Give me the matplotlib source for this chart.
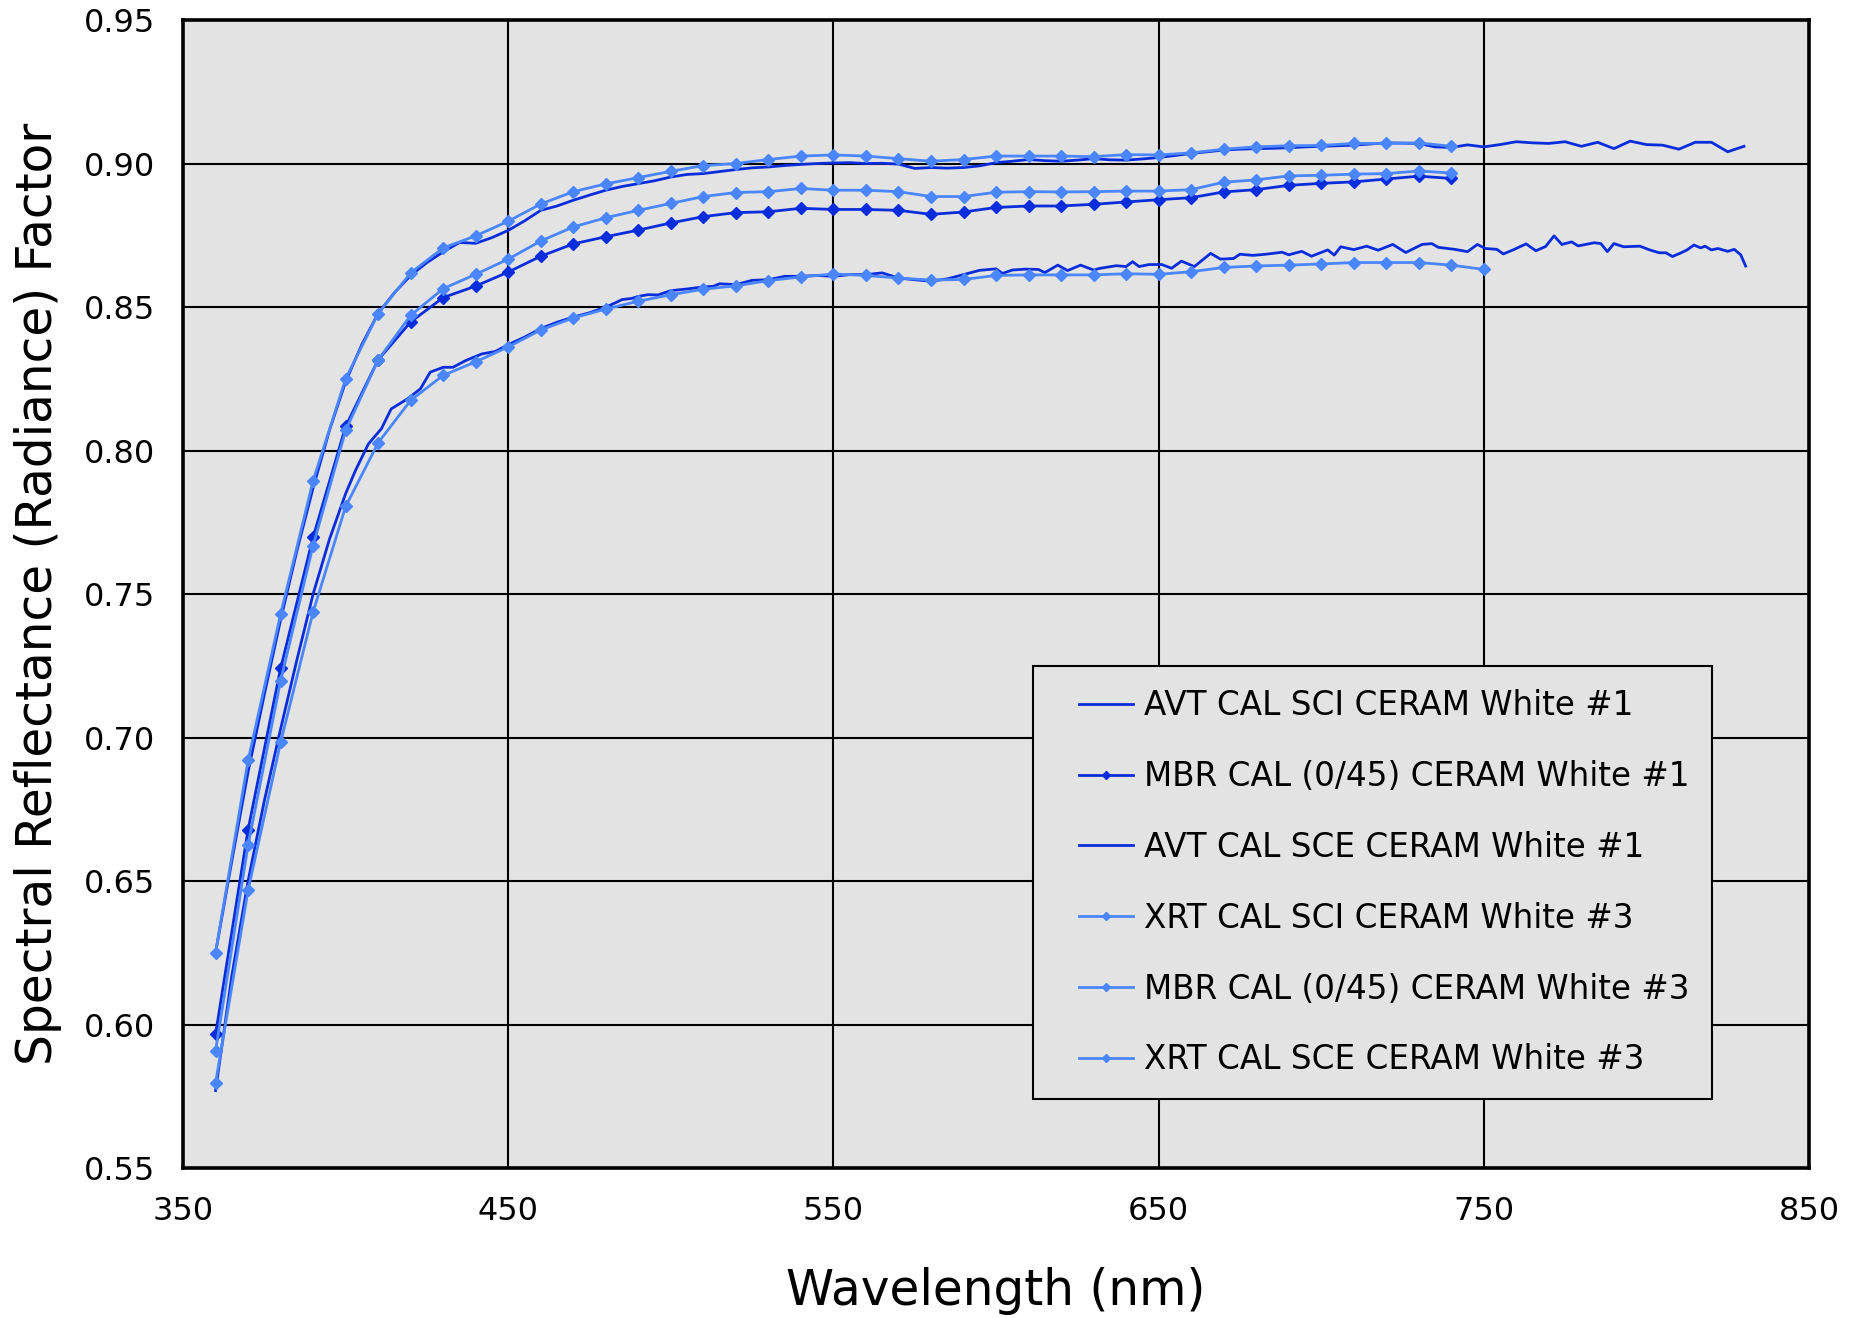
import matplotlib
matplotlib.use("Agg")
import matplotlib.pyplot as plt
from matplotlib.lines import Line2D
from matplotlib.legend_handler import HandlerLine2D

# ---------------- data ----------------
x_mark = [360, 370, 380, 390, 400, 410, 420, 430, 440, 450, 460, 470, 480, 490, 500,
          510, 520, 530, 540, 550, 560, 570, 580, 590, 600, 610, 620, 630, 640, 650,
          660, 670, 680, 690, 700, 710, 720, 730, 740]
x_mark_750 = x_mark + [750]

mbr_cal_1 = [0.5966, 0.6679, 0.7241, 0.7698, 0.8084, 0.8316, 0.8448, 0.8533, 0.8573, 0.8622,
             0.8677, 0.8720, 0.8745, 0.8768, 0.8793, 0.8815, 0.8829, 0.8832, 0.8844, 0.8840,
             0.8840, 0.8837, 0.8823, 0.8831, 0.8847, 0.8852, 0.8852, 0.8858, 0.8866, 0.8874,
             0.8881, 0.8901, 0.8909, 0.8924, 0.8931, 0.8936, 0.8946, 0.8956, 0.8948]

xrt_sci_3 = [0.6250, 0.6920, 0.7430, 0.7895, 0.8250, 0.8477, 0.8619, 0.8706, 0.8748, 0.8799,
             0.8859, 0.8902, 0.8929, 0.8951, 0.8973, 0.8993, 0.9000, 0.9014, 0.9026, 0.9030,
             0.9026, 0.9017, 0.9008, 0.9014, 0.9026, 0.9026, 0.9026, 0.9024, 0.9031, 0.9030,
             0.9037, 0.9050, 0.9058, 0.9062, 0.9063, 0.9070, 0.9070, 0.9072, 0.9060]

mbr_cal_3 = [0.5908, 0.6626, 0.7198, 0.7669, 0.8070, 0.8316, 0.8471, 0.8564, 0.8614, 0.8667,
             0.8730, 0.8779, 0.8811, 0.8837, 0.8861, 0.8885, 0.8899, 0.8902, 0.8913, 0.8907,
             0.8907, 0.8902, 0.8885, 0.8885, 0.8900, 0.8902, 0.8901, 0.8902, 0.8904, 0.8904,
             0.8909, 0.8935, 0.8943, 0.8957, 0.8959, 0.8963, 0.8965, 0.8974, 0.8967]

xrt_sce_3 = [0.5796, 0.6468, 0.6983, 0.7438, 0.7805, 0.8027, 0.8175, 0.8262, 0.8309, 0.8361,
             0.8420, 0.8462, 0.8493, 0.8520, 0.8543, 0.8562, 0.8574, 0.8592, 0.8605, 0.8615,
             0.8610, 0.8601, 0.8594, 0.8596, 0.8610, 0.8612, 0.8612, 0.8612, 0.8616, 0.8614,
             0.8623, 0.8638, 0.8643, 0.8646, 0.8650, 0.8655, 0.8655, 0.8655, 0.8646, 0.8631]

avt_sci_x = [360, 365, 370, 375, 380, 385, 390, 395, 400, 405, 410, 415, 420, 425, 430,
             435, 440, 445, 450, 455, 460, 465, 470, 475, 480, 485, 490, 495, 500, 505,
             510, 515, 520, 525, 530, 535, 540, 545, 550, 555, 560, 565, 570, 575, 580,
             585, 590, 595, 600, 605, 610, 615, 620, 625, 630, 635, 640, 645, 650, 655,
             660, 665, 670, 675, 680, 685, 690, 695, 700, 705, 710, 715, 720, 725, 730,
             735, 740, 745, 750, 755, 760, 765, 770, 775, 780, 785, 790, 795, 800, 805,
             810, 815, 820, 825, 830]
avt_sci_1 = [0.625, 0.657, 0.688, 0.715, 0.741, 0.765, 0.787, 0.807, 0.824, 0.837,
             0.8478, 0.855, 0.861, 0.8655, 0.8692, 0.8725, 0.8722, 0.8742, 0.8767, 0.8800,
             0.8837, 0.8852, 0.8872, 0.8890, 0.8907, 0.8920, 0.8930, 0.8940, 0.8953, 0.8962,
             0.8965, 0.8972, 0.8979, 0.8985, 0.8988, 0.8993, 0.8997, 0.9000, 0.9002, 0.9003,
             0.9000, 0.9001, 0.8998, 0.8983, 0.8986, 0.8984, 0.8986, 0.8992, 0.9003, 0.9008,
             0.9014, 0.9010, 0.9008, 0.9012, 0.9017, 0.9013, 0.9012, 0.9016, 0.9021, 0.9028,
             0.9035, 0.9041, 0.9047, 0.9050, 0.9052, 0.9053, 0.9055, 0.9058, 0.9060, 0.9062,
             0.9064, 0.9068, 0.9072, 0.9071, 0.9070, 0.9058, 0.9056, 0.9065, 0.9058, 0.9066,
             0.9076, 0.9072, 0.9070, 0.9076, 0.9060, 0.9074, 0.9052, 0.9078, 0.9066, 0.9064,
             0.9050, 0.9074, 0.9074, 0.9041, 0.9060]

avt_sce_x = [360, 365, 370, 375, 380, 385, 390, 395, 400, 403, 407, 411, 414, 419, 423,
             426, 430, 433, 437, 442, 446, 450, 455, 460, 465, 470, 475, 480, 483, 485,
             488, 490, 493, 496, 500, 505, 510, 513, 515, 520, 525, 530, 535, 540, 545,
             550, 555, 560, 565, 570, 575, 580, 585, 590, 595, 600, 602, 605, 609, 613,
             615, 619, 622, 626, 630, 632, 637, 640, 642, 644, 647, 651, 654, 657, 661,
             666, 669, 673, 675, 679, 683, 688, 690, 694, 697, 702, 704, 706, 710, 714,
             717.5, 722, 726, 731, 734, 736, 741, 745, 748, 750.5, 754, 756, 759, 763, 766,
             769, 771.6, 774, 777, 779, 784, 786, 788, 790, 793, 798, 801, 804, 806, 808,
             810.5, 812.5, 814.6, 816.7, 818, 820, 822, 825, 827, 829, 830.5]
avt_sce_1 = [0.577, 0.617, 0.650, 0.678, 0.703, 0.727, 0.750, 0.769, 0.785, 0.793,
             0.8023, 0.8076, 0.8145, 0.818, 0.8215, 0.8273, 0.829, 0.829, 0.8314, 0.8337,
             0.8345, 0.8369, 0.8395, 0.8425, 0.8447, 0.8465, 0.848, 0.850, 0.8515, 0.8526,
             0.853, 0.8537, 0.8543, 0.8542, 0.8557, 0.8563, 0.857, 0.8572, 0.8581, 0.8578,
             0.8593, 0.8595, 0.8607, 0.8607, 0.8610, 0.8607, 0.8613, 0.8613, 0.8619, 0.8601,
             0.8595, 0.859, 0.8598, 0.8613, 0.8628, 0.8633, 0.8617, 0.8629, 0.8632, 0.8631,
             0.8620, 0.8646, 0.8627, 0.8646, 0.8629, 0.8635, 0.8644, 0.8641, 0.8658, 0.8641,
             0.8648, 0.8648, 0.8635, 0.866, 0.8641, 0.8687, 0.8667, 0.8669, 0.8684, 0.868,
             0.8684, 0.8691, 0.8682, 0.8694, 0.8677, 0.8699, 0.8681, 0.871, 0.870, 0.8712,
             0.8698, 0.8718, 0.869, 0.8718, 0.8721, 0.8708, 0.8701, 0.8693, 0.8718, 0.8704,
             0.8701, 0.8685, 0.8699, 0.872, 0.8696, 0.8711, 0.8748, 0.8718, 0.8727, 0.8713,
             0.8724, 0.8721, 0.8693, 0.8721, 0.8710, 0.8712, 0.8699, 0.8689, 0.8689, 0.8676,
             0.8688, 0.8699, 0.8716, 0.8706, 0.8712, 0.8699, 0.8704, 0.8694, 0.8701, 0.8682,
             0.8643]

labels = ["AVT CAL SCI CERAM White #1",
          "MBR CAL (0/45) CERAM White #1",
          "AVT CAL SCE CERAM White #1",
          "XRT CAL SCI CERAM White #3",
          "MBR CAL (0/45) CERAM White #3",
          "XRT CAL SCE CERAM White #3"]

x_ticks = [350, 450, 550, 650, 750, 850]
y_ticks = [0.55, 0.60, 0.65, 0.70, 0.75, 0.80, 0.85, 0.90, 0.95]

# ---------------- style ----------------
DARK = "#0A2DDC"
LIGHT = "#4A86FF"
BG = "#E3E3E3"

plt.rcParams['font.family'] = ['DejaVu Sans']

fig = plt.figure(figsize=(18.64, 13.18), dpi=100)
ax = fig.add_axes([0.0982, 0.1138, 0.8723, 0.8710])
ax.set_facecolor(BG)

lw = 2.0
ms = 6.3
ax.plot(avt_sci_x, avt_sci_1, color=DARK, lw=lw, label=labels[0], zorder=3)
ax.plot(x_mark, mbr_cal_1, color=DARK, lw=lw, marker='D', ms=ms, label=labels[1], zorder=3)
ax.plot(avt_sce_x, avt_sce_1, color=DARK, lw=lw, label=labels[2], zorder=3)
ax.plot(x_mark, xrt_sci_3, color=LIGHT, lw=lw, marker='D', ms=ms, label=labels[3], zorder=4)
ax.plot(x_mark, mbr_cal_3, color=LIGHT, lw=lw, marker='D', ms=ms, label=labels[4], zorder=4)
ax.plot(x_mark_750, xrt_sce_3, color=LIGHT, lw=lw, marker='D', ms=ms, label=labels[5], zorder=4)

ax.set_xlim(350, 850)
ax.set_ylim(0.55, 0.95)
ax.set_xticks(x_ticks)
ax.set_yticks(y_ticks)
ax.set_yticklabels([f"{v:.2f}" for v in y_ticks])
ax.tick_params(axis='both', length=0, labelsize=23)
ax.tick_params(axis='y', pad=20)
ax.tick_params(axis='x', pad=20)
ax.grid(True, color='black', linewidth=1.5, zorder=1)
ax.set_axisbelow(True)
for s in ax.spines.values():
    s.set_linewidth(2.6)
    s.set_color('black')

ax.set_xlabel("Wavelength (nm)", fontsize=35, labelpad=29)
ax.set_ylabel("Spectral Reflectance (Radiance) Factor", fontsize=35, labelpad=16)

leg = ax.legend(loc='upper left', bbox_to_anchor=(0.523, 0.437), fontsize=23.5,
                handlelength=2.35, labelspacing=1.16, borderpad=0.7, handletextpad=0.33,
                fancybox=False, framealpha=1, facecolor=BG, edgecolor='black',
                markerscale=0.7, borderaxespad=0,
                handler_map={Line2D: HandlerLine2D(xpad=0.7)})
leg.get_frame().set_linewidth(1.5)

fig.savefig("out.png", dpi=100)
